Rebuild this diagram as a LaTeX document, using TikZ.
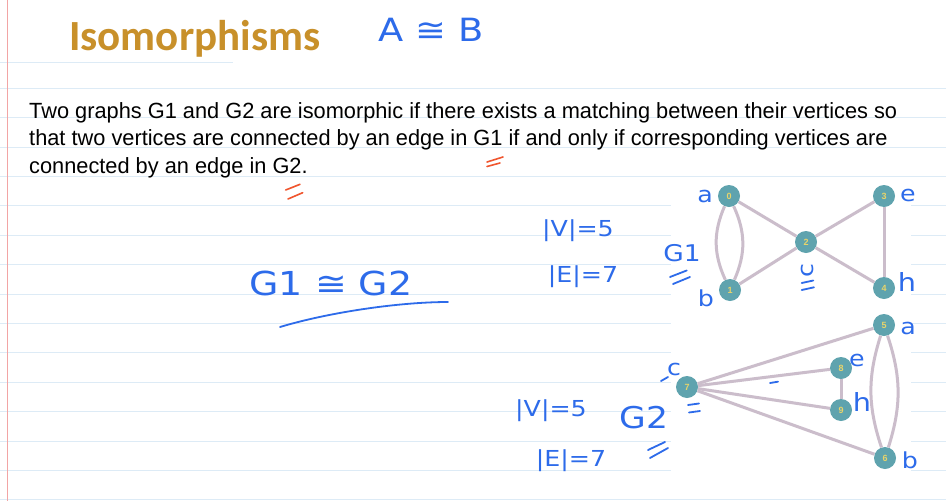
\documentclass[tikz,border=0pt]{standalone}
\usepackage{fontspec}
\setmainfont{Liberation Sans}
\newfontfamily\bodyfont{Liberation Sans}[FakeStretch=0.99]
\newfontfamily\titlefont{Carlito}
\newfontfamily\handfont{DejaVu Sans}[FakeStretch=1.15]
\usepackage{tikz}
\usetikzlibrary{positioning}
\definecolor{RuleBlue}{HTML}{DDEBF6}
\definecolor{MarginRed}{HTML}{F2A5A5}
\definecolor{TitleGold}{HTML}{C8902A}
\definecolor{InkBlue}{HTML}{2D6BEA}
\definecolor{InkRed}{HTML}{F0552E}
\definecolor{VertexTeal}{HTML}{5FA3AE}
\definecolor{VertexText}{HTML}{E8D46A}
\definecolor{EdgeMauve}{HTML}{CBBDCB}

\begin{document}
\begin{tikzpicture}[x=1pt,y=-1pt,
    vertex/.style={circle,fill=VertexTeal,inner sep=0pt,minimum size=22pt,
                   text=VertexText,font=\bfseries\fontsize{9}{9}\selectfont},
    link/.style={EdgeMauve,line width=3pt},
    ink/.style={text=InkBlue,inner sep=0pt,font=\handfont\fontsize{22}{22}\selectfont},
    pen/.style={InkBlue,line width=1.8pt,line cap=round},
    redpen/.style={InkRed,line width=1.6pt,line cap=round}]
  % page with ruled lines
  \fill[white] (0,0) rectangle (946,501);
  \useasboundingbox (0,0) rectangle (946,501);
  \draw[RuleBlue,line width=1pt] (0,62.3) -- (233,62.3);
  \foreach \y in {88.3,117.7,...,501}
    \draw[RuleBlue,line width=1pt] (0,\y) -- (946,\y);
  \fill[white] (671,181) rectangle (911,489);
  \draw[MarginRed,line width=1pt] (7.3,0) -- (7.3,501);

  % title and definition
  \node[anchor=base west,inner sep=0pt,text=TitleGold,
        font=\titlefont\bfseries\fontsize{43}{43}\selectfont] (title) at (69,50) {Isomorphisms};
  \node[ink,font=\handfont\fontsize{32}{32}\selectfont] (ab) at (431,30) {A ≅ B};
  \node[anchor=north west,inner sep=0pt,align=left,
        font=\bodyfont\fontsize{22}{27.2}\selectfont] (defn) at (29,102.5)
        {Two graphs G1 and G2 are isomorphic if there exists a matching between their vertices so\\
         that two vertices are connected by an edge in G1 if and only if corresponding vertices are\\
         connected by an edge in G2.};
  \draw[redpen] (487,162) -- (503,157);
  \draw[redpen] (487,166.5) -- (500,163);
  \draw[redpen] (285.7,190) -- (300,184.3);
  \draw[redpen] (288,199) -- (302.7,192.7);

  % notes
  \node[ink,font=\handfont\fontsize{33}{33}\selectfont] (iso) at (331,283) {G1 ≅ G2};
  \draw[pen] (280,327) .. controls (330,312) and (400,302) .. (448,302);
  \node[ink] (nv1) at (578,231) {|V|=5};
  \node[ink] (ne1) at (583,277) {|E|=7};
  \node[ink] (nv2) at (551,411) {|V|=5};
  \node[ink] (ne2) at (571,461) {|E|=7};

  % graph G1
  \node[vertex] (v0) at (729,196) {0};
  \node[vertex] (v1) at (730,290) {1};
  \node[vertex] (v2) at (806,242) {2};
  \node[vertex] (v3) at (884,196) {3};
  \node[vertex] (v4) at (884,288) {4};
  \draw[link] (v0) to[bend left=24] (v1);
  \draw[link] (v0) to[bend right=24] (v1);
  \draw[link] (v0) -- (v2);
  \draw[link] (v1) -- (v2);
  \draw[link] (v2) -- (v3);
  \draw[link] (v2) -- (v4);
  \draw[link] (v3) -- (v4);
  \node[ink] (la) at (705,196) {a};
  \node[ink] (lb) at (706,298) {b};
  \node[ink,rotate=90] (lc) at (807,271) {c};
  \node[ink] (le) at (908,195) {e};
  \node[ink,font=\handfont\fontsize{25}{25}\selectfont] (lh) at (907,282) {h};
  \node[ink,font=\handfont\fontsize{23}{23}\selectfont] (g1) at (682,253) {G1};
  \draw[pen] (670,277) -- (686.7,270.5);
  \draw[pen] (673,284) -- (690,277);
  \draw[pen] (801.7,283) -- (813.3,280.5);
  \draw[pen] (801.7,290) -- (814,287.3);

  % graph G2
  \node[vertex] (v5) at (884,325) {5};
  \node[vertex] (v6) at (885,458) {6};
  \node[vertex] (v7) at (687,387) {7};
  \node[vertex] (v8) at (841,368) {8};
  \node[vertex] (v9) at (841,410) {9};
  \draw[link] (v5) to[bend left=18] (v6);
  \draw[link] (v5) to[bend right=18] (v6);
  \draw[link] (v7) -- (v5);
  \draw[link] (v7) -- (v8);
  \draw[link] (v7) -- (v9);
  \draw[link] (v7) -- (v6);
  \draw[link] (v8) -- (v9);
  \node[ink] (l5) at (908,328) {a};
  \node[ink] (l6) at (910,460) {b};
  \node[ink] (l7) at (674,369) {c};
  \node[ink] (l8) at (857,360) {e};
  \node[ink,font=\handfont\fontsize{25}{25}\selectfont] (l9) at (862,402) {h};
  \draw[pen] (668,377) -- (661,381);
  \draw[pen] (688,405) -- (699,403.5);
  \draw[pen] (689,412.5) -- (700,411);
  \draw[pen] (770,383) -- (778,381.7);
  \node[ink,font=\handfont\fontsize{30}{30}\selectfont] (g2) at (644,418) {G2};
  \draw[pen] (648,450) -- (665,442);
  \draw[pen] (650,458) -- (668,448);
\end{tikzpicture}
\end{document}
